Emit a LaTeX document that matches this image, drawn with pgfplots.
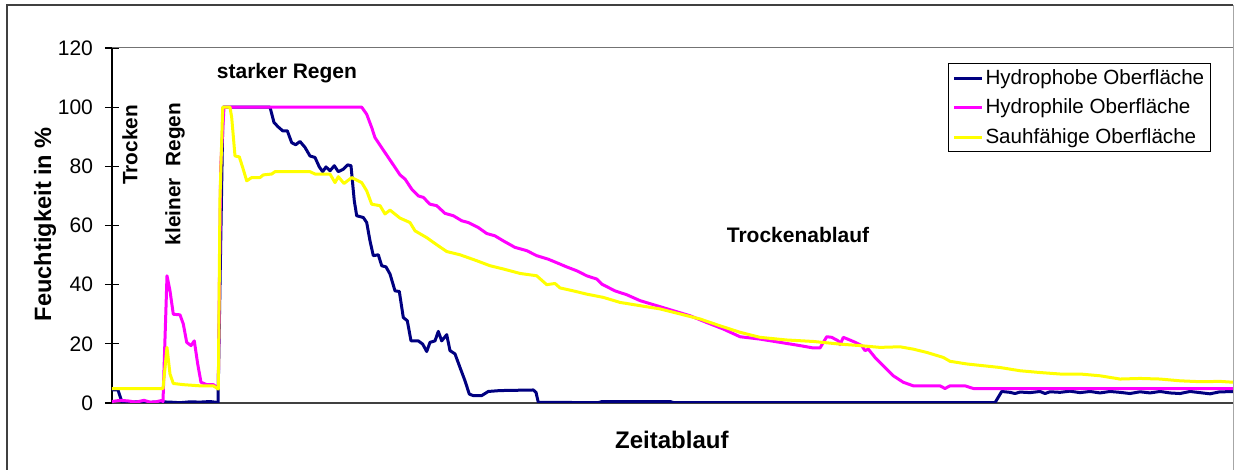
\documentclass[border=0pt]{standalone}
\usepackage{pgfplots}
\pgfplotsset{compat=1.18}
\usepackage{fontspec}
\setmainfont{Liberation Sans}
\definecolor{navy}{RGB}{0,0,128}
\definecolor{mag}{RGB}{255,0,255}
\definecolor{yel}{RGB}{255,255,0}
\begin{document}
\begin{tikzpicture}
\begin{axis}[
  at={(0,0)}, anchor=south west,
  scale only axis, width=561pt, height=177.5pt,
  xmin=112, xmax=1234, ymin=0, ymax=120,
  axis lines*=left,
  x axis line style={draw=black!75, line width=1pt},
  y axis line style={draw=black, line width=0.75pt},
  xtick=\empty,
  ytick={0,20,...,120},
  tick align=center, major tick length=7pt,
  tick style={black, line width=0.6pt},
  ticklabel style={font=\fontsize{10.5}{12}\selectfont},
  yticklabel style={xshift=-2.5pt},
  /pgf/number format/assume math mode=true,
  xlabel={Zeitablauf},
  ylabel={Feuchtigkeit in \%},
  xlabel style={at={(rel axis cs:0.499,-0.104)}, anchor=center, font=\bfseries\fontsize{12}{14}\selectfont},
  ylabel style={at={(rel axis cs:-0.0597,0.504)}, anchor=center, font=\bfseries\fontsize{11.8}{14}\selectfont},
  legend style={at={(rel axis cs:0.745,0.958)}, anchor=north west, draw=black, line width=0.6pt,
    font=\fontsize{10.3}{12}\selectfont, inner xsep=2pt, inner ysep=1.8pt,
    nodes={inner xsep=1pt, inner ysep=1pt}, row sep=3.8pt},
  legend cell align=left,
  legend image code/.code={\draw[#1] (0pt,0pt) -- (14pt,0pt);},
  every axis plot/.append style={line width=1.5pt, line join=round},
]
\addplot[navy] coordinates {
(112,4.4) (118,4.4) (122,0.3) (130,0.2) (140,0.5) (150,0.2) (160,0.4) (170,0.3) (180,0.1) (190,0.4) (200,0.3) (210,0.5) (217,0.2) (218,0) (221,60) (223,100) (270,100) (274,94.8) (278.3,93.3) (282.7,92) (287.3,92) (291.7,88) (295.7,87.3) (300,88.4) (305,86.4) (310,83.5) (315,83) (319.3,79.8) (322.7,78.2) (326,79.8) (330,78.5) (334.3,80.2) (338.3,78.2) (343.3,79) (347.7,80.5) (351,80.2) (352.7,74) (354.3,68.3) (356.7,63.3) (363.3,62.7) (366.7,61) (370,54.8) (373.3,49.8) (378.3,50.1) (381.7,46.4) (386,46) (390,43.6) (395,37.9) (399.3,37.7) (403.3,28.9) (407.3,27.8) (411,21) (418.3,21) (422.7,19.9) (426.7,17.4) (430,20.5) (435,21) (438.3,24.2) (441.7,21) (446.7,23.1) (450,17.7) (455,16.6) (460,12) (465,7.5) (469.3,3) (473.3,2.5) (481.7,2.5) (488.3,3.9) (500,4.2) (533.3,4.4) (536,3.6) (538.3,0.2) (560,0.2) (598,0.1) (602,0.5) (670,0.5) (674,0.1) (995,0.1) (1001.7,3.9) (1010,3.6) (1015,3.2) (1020,3.7) (1030,3.5) (1040,3.9) (1045,3.2) (1050,3.8) (1060,3.6) (1070,4) (1080,3.5) (1090,3.9) (1100,3.4) (1110,3.9) (1120,3.6) (1130,3.2) (1140,3.8) (1150,3.4) (1160,3.9) (1170,3.4) (1180,3.2) (1190,3.9) (1200,3.5) (1210,3.1) (1220,3.8) (1225,3.8) (1234,3.9)
};
\addlegendentry{Hydrophobe Oberfläche}
\addplot[mag] coordinates {
(112,0.5) (120,0.9) (128,0.7) (136,0.3) (144,0.9) (150,0.3) (156,0.4) (161,0.8) (163,0.5) (167,43) (170,37.9) (173.3,30) (180,29.8) (183.3,26.7) (186.7,20.5) (191,19.4) (194.3,21) (197.7,13.2) (201,7) (206.7,6.2) (213.3,6.2) (218.3,5) (220.7,80) (224,100) (361.7,100) (366.7,97.6) (371.7,93.1) (375,89.7) (383.3,85.5) (391.7,81.3) (400,77.1) (405,75.7) (411.7,72.3) (418.3,70) (423.3,69.5) (430,67.2) (436.7,66.7) (445,64.1) (453.3,63.3) (461.7,61.6) (468.3,61) (478.3,59.3) (486.7,57.3) (495,56.5) (503.3,54.8) (515,52.6) (526.7,51.5) (536.7,49.8) (548.3,48.6) (558.3,47.2) (566.7,46) (576.7,44.7) (586.7,43) (596.7,41.9) (601.7,40.2) (615,37.9) (626.7,36.6) (640,34.6) (656.7,32.9) (673.3,31.2) (690,29.5) (706.7,27.2) (723.3,25) (740,22.4) (760,21.6) (780,20.5) (800,19.4) (813.3,18.6) (820,18.6) (826.7,22.4) (831.7,22.2) (838.3,21) (840,19.7) (843.3,22.2) (853.3,20.8) (861.7,19.4) (865,17.7) (868.3,18.2) (875,15.4) (885,12) (893.3,9.2) (903.3,7) (913.3,5.8) (940,5.8) (945,4.9) (950,5.8) (965,5.8) (973.3,4.9) (1234,4.9)
};
\addlegendentry{Hydrophile Oberfläche}
\addplot[yel] coordinates {
(112,4.9) (163,4.9) (167,18.8) (170,9.8) (173.3,6.6) (183.3,6.2) (200,5.8) (213.3,5.8) (218.3,4.7) (220,69.5) (222.7,100) (230,100) (231.7,96.5) (235,83.5) (239.3,83.2) (242.7,79.6) (246.7,75.1) (251.7,76.2) (260,76.2) (263.3,77.1) (271.7,77.4) (275,78.2) (310,78.2) (315,77.4) (330,77.4) (335,74.5) (338.3,76.5) (344,74.2) (351.7,76.2) (361.7,74.5) (366.7,71.7) (371.7,67.2) (380,66.7) (385,63.9) (390,65.2) (400,62.5) (410,61) (415,58.2) (426.7,55.9) (436.7,53.5) (446.7,51.2) (460,50.1) (476.7,48.1) (490,46.4) (503.3,45.3) (520,43.8) (536.7,43) (546.7,40) (555,40.4) (560,38.9) (573.3,37.9) (586.7,36.8) (603.3,35.7) (620,34) (640,32.9) (660,31.8) (680,30.1) (700,28.4) (720,26.1) (740,23.9) (760,22.2) (786.7,21.3) (813.3,20.8) (840,19.9) (860,19.4) (880,18.8) (900,19) (913.3,18.2) (926.7,17.1) (943.3,15.4) (950,14.1) (966.7,13.2) (983.3,12.6) (1000,12) (1020,10.9) (1040,10.3) (1060,9.8) (1080,9.8) (1100,9.2) (1120,8.1) (1140,8.3) (1160,8.1) (1180,7.5) (1200,7.2) (1220,7.3) (1234,7)
};
\addlegendentry{Sauhfähige Oberfläche}
\draw[black!55, line width=0.5pt] (rel axis cs:0,1) -- (rel axis cs:1,1);
\node[rotate=90, font=\bfseries\fontsize{10.4}{12}\selectfont] at (axis cs:130,87.2) {Trocken};
\node[rotate=90, font=\bfseries\fontsize{10.4}{12}\selectfont] at (axis cs:175,77.4) {kleiner\ \ Regen};
\node[font=\bfseries\fontsize{10.5}{12}\selectfont] at (axis cs:287,111.6) {starker Regen};
\node[font=\bfseries\fontsize{10.5}{12}\selectfont] at (axis cs:798,56.8) {Trockenablauf};
\end{axis}
\draw[black!75, line width=1pt] (-52.5pt,-45pt) -- (-52.5pt,199pt) -- (560.5pt,199pt);
\draw[black!35, line width=0.5pt] (560.5pt,199pt) -- (560.5pt,-45pt);
\pgfresetboundingbox
\useasboundingbox (-56pt,-33.5pt) rectangle (561pt,201.5pt);
\end{tikzpicture}
\end{document}
